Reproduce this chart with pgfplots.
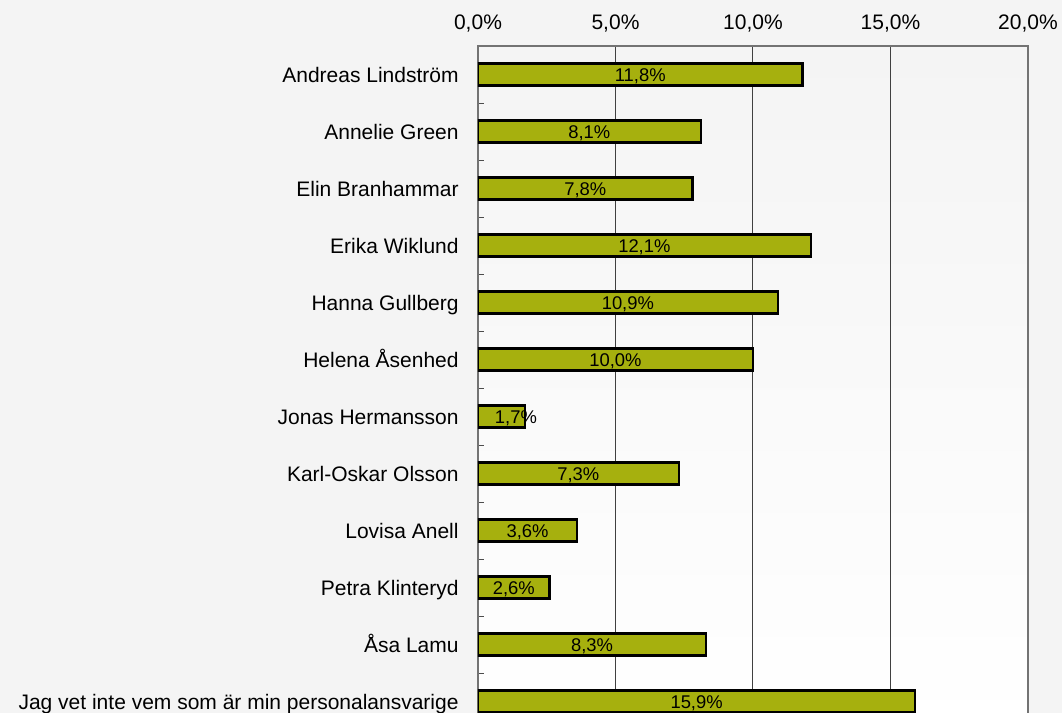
\documentclass[border=0pt]{standalone}
\usepackage{fontspec}
\setmainfont{Liberation Sans}
\usepackage{pgfplots}
\pgfplotsset{compat=1.18}
\usepackage{pgfplotstable}
\definecolor{bg}{HTML}{F4F4F4}
\definecolor{barc}{RGB}{166,176,14}
% y: category index, v: value (%), lx: label centre position
\pgfplotstableread{
y v lx
0 11.8 5.9
1 8.1 4.05
2 7.8 3.9
3 12.1 6.05
4 10.9 5.45
5 10.0 5.0
6 1.7 1.38
7 7.3 3.65
8 3.6 1.8
9 2.6 1.3
10 8.3 4.15
11 15.9 7.95
}\data
\begin{document}
\begin{tikzpicture}
\clip (0,0) rectangle (531pt,-356.5pt);
\fill[bg] (0,0) rectangle (531pt,-356.5pt);
\begin{axis}[
  at={(239pt,-365pt)}, anchor=south west,
  scale only axis, width=275pt, height=342pt,
  xmin=0, xmax=20, ymin=-0.5, ymax=11.5, y dir=reverse,
  axis background/.style={shade, top color=bg, bottom color=white},
  xtick={0,5,10,15,20},
  xtick pos=right, xticklabel pos=right,
  xticklabel={\pgfmathprintnumber[fixed,fixed zerofill,precision=1,use comma]{\tick}\%},
  /pgf/number format/assume math mode=true,
  xticklabel style={anchor=base, inner sep=0pt, yshift=8.5pt, font=\fontsize{10.5}{12}\selectfont},
  xmajorgrids, major grid style={draw=black!75, line width=0.5pt},
  ytick={0,...,11},
  yticklabels={Andreas Lindström, Annelie Green, Elin Branhammar, Erika Wiklund, Hanna Gullberg, Helena Åsenhed, Jonas Hermansson, Karl-Oskar Olsson, Lovisa Anell, Petra Klinteryd, Åsa Lamu, Jag vet inte vem som är min personalansvarige},
  yticklabel style={anchor=base east, inner sep=0pt, xshift=-9.5pt, yshift=-3.8pt, font=\fontsize{10.5}{12}\selectfont},
  minor ytick={0.5,1.5,...,10.5},
  ytick pos=left,
  major tick length=0pt, minor tick length=3pt,
  minor tick style={draw=black!70, line width=0.5pt},
  axis line style={draw=black!55, line width=0.9pt},
]
\addplot[xbar, bar width=11pt, fill=barc, draw=black, line width=1.1pt] table[x=v, y=y]{\data};
\addplot[draw=none, mark=none, point meta=\thisrow{v},
  nodes near coords={\pgfmathprintnumber[fixed,fixed zerofill,precision=1,use comma]{\pgfplotspointmeta}\%},
  nodes near coords style={anchor=base, inner sep=0pt, yshift=-3.6pt, font=\fontsize{9.2}{10}\selectfont}]
  table[x=lx, y=y]{\data};
\end{axis}
\end{tikzpicture}
\end{document}
